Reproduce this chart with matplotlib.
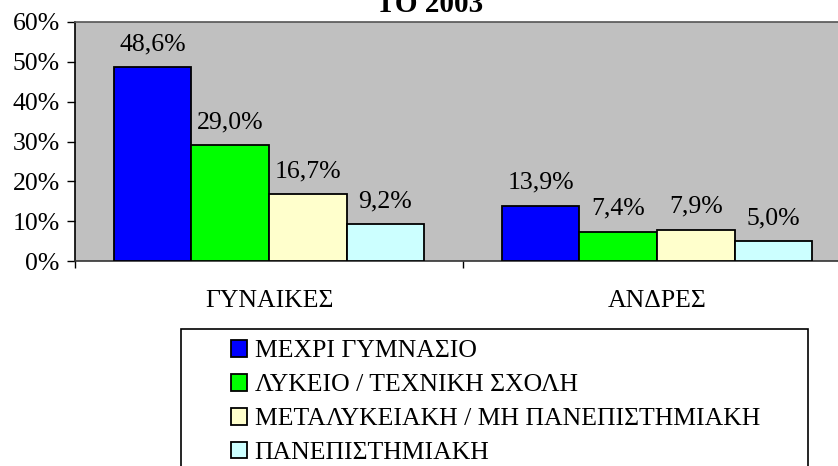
import numpy as np
import matplotlib.pyplot as plt
from matplotlib.patches import Rectangle
from matplotlib.ticker import PercentFormatter

plt.rcParams['font.family'] = ['Liberation Serif', 'DejaVu Serif']

# Δεδομένα
categories = ["ΓΥΝΑΙΚΕΣ", "ΑΝΔΡΕΣ"]
series_names = ["ΜΕΧΡΙ ΓΥΜΝΑΣΙΟ", "ΛΥΚΕΙΟ / ΤΕΧΝΙΚΗ ΣΧΟΛΗ",
                "ΜΕΤΑΛΥΚΕΙΑΚΗ / ΜΗ ΠΑΝΕΠΙΣΤΗΜΙΑΚΗ", "ΠΑΝΕΠΙΣΤΗΜΙΑΚΗ"]
values = [
    [48.6, 13.9],
    [29.0, 7.4],
    [16.7, 7.9],
    [9.2, 5.0],
]
colors = ["#0000FF", "#00FF00", "#FFFFCC", "#CCFFFF"]

W, H = 838, 466
fig = plt.figure(figsize=(W / 100, H / 100), dpi=100)
ax = fig.add_axes([75 / W, 1 - 261 / H, 776 / W, 239 / H])
ax.set_facecolor("#C0C0C0")

x = np.arange(len(categories))
width = 0.2
offsets = [-0.3, -0.1, 0.1, 0.3]
fs = 18.5

for vals, name, c, off in zip(values, series_names, colors, offsets):
    bars = ax.bar(x + off, vals, width, color=c, edgecolor="black",
                  linewidth=1.3, label=name, zorder=3)
    for b, v in zip(bars, vals):
        ax.annotate(f"{v:.1f}%".replace(".", ","),
                    (b.get_x() + b.get_width() / 2, v),
                    xytext=(0, 17), textcoords="offset pixels",
                    ha="center", va="baseline", fontsize=fs)

ax.set_xlim(-0.5, 1.5)
ax.set_ylim(0, 60)
ax.set_yticks(np.arange(0, 61, 10))
ax.yaxis.set_major_formatter(PercentFormatter(decimals=0))
ax.tick_params(axis="y", direction="out", length=6, width=1, labelsize=fs, pad=5)

ax.set_xticks([-0.5, 0.5, 1.5])
ax.set_xticklabels([])
ax.set_xticks(x, minor=True)
ax.set_xticklabels(categories, minor=True, fontsize=fs)
ax.tick_params(axis="x", which="major", direction="out", length=5, width=1)
ax.tick_params(axis="x", which="minor", length=0, pad=21)

ax.spines["left"].set_color("black")
ax.spines["bottom"].set_color("#333333")
ax.spines["top"].set_color("#555555")
ax.spines["right"].set_color("#555555")
for s in ax.spines.values():
    s.set_linewidth(1.2)

fig.text(430 / W, 1 - 12 / H, "ΤΟ 2003", ha="center", va="baseline",
         fontsize=21, fontweight="bold")

# Υπόμνημα
fig.patches.append(Rectangle((181 / W, -0.1), 627 / W, 1 - 329 / H + 0.1,
                             transform=fig.transFigure, facecolor="white",
                             edgecolor="black", linewidth=1.2, zorder=0))
handles, labels = ax.get_legend_handles_labels()
leg = fig.legend(handles, labels, loc="upper left",
                 bbox_to_anchor=(231 / W, 1 - 340 / H), frameon=False,
                 fontsize=fs, handlelength=0.62, handleheight=0.62,
                 handletextpad=0.3, labelspacing=0.45, borderpad=0,
                 borderaxespad=0)

fig.savefig("out.png", dpi=100)
